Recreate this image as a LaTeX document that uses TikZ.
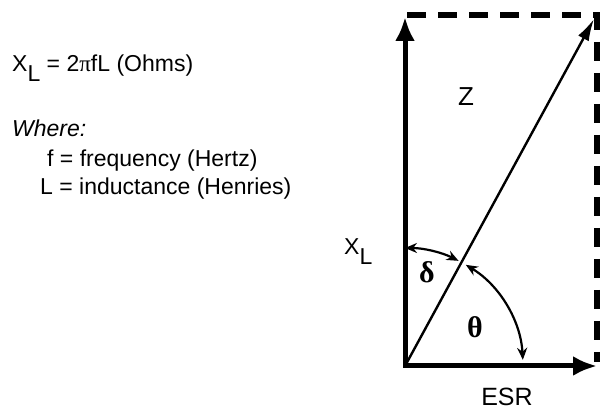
\documentclass[tikz,border=0pt]{standalone}
\usepackage{fontspec}
\setmainfont{Liberation Sans}
\newfontfamily\greekfont{Liberation Serif}
\usetikzlibrary{arrows.meta}

\tikzset{
  phasor/.style={line width=5pt, line cap=rect, -{Latex[length=24pt,width=20pt]}},
  anglearc/.style={line width=2.2pt, {Stealth[length=12pt,width=10pt]}-{Stealth[length=12pt,width=10pt]}},
  boxline/.style={line width=6pt, dash pattern=on 19pt off 12pt},
  greeklabel/.style={font=\greekfont\bfseries\fontsize{30}{34}\selectfont}
}

\begin{document}
\begin{tikzpicture}[x=1pt, y=1pt, line join=miter, font=\fontsize{23}{27}\selectfont]
  \useasboundingbox (0,0) rectangle (602,411);
  \coordinate (O) at (405,45);
  \coordinate (T) at (405,394);
  \coordinate (R) at (597,45);
  \coordinate (C) at (597,396);
  \coordinate (Zend) at (594,392);
  \coordinate (Bend) at (597,49);
  % dashed completion of the box
  \draw[boxline] (407,396) -- (C) -- (Bend);
  % phasors
  \draw[phasor] (O) -- (T);
  \draw[phasor] (O) -- (R);
  \draw[line width=2.4pt, -{Latex[length=22pt,width=12pt]}] (O) -- (Zend);
  % angles
  \draw[anglearc] (O) ++(90:118) arc[start angle=90, end angle=63, radius=118];
  \draw[anglearc] (O) ++(59:118) arc[start angle=59, end angle=3, radius=118];
  % labels
  \node[anchor=base west, inner sep=0] (formula) at (12,339) {X\raisebox{-0.4em}{L} = 2{\greekfont π}fL (Ohms)};
  \node[anchor=base west, inner sep=0, font=\fontsize{23}{27}\selectfont\itshape] (where) at (12,274) {Where:};
  \node[anchor=base west, inner sep=0] (freq) at (47,244) {f = frequency (Hertz)};
  \node[anchor=base west, inner sep=0] (induct) at (40,216) {L = inductance (Henries)};
  \node[anchor=base west, inner sep=0, font=\fontsize{26}{30}\selectfont] (Zlabel) at (458,305) {Z};
  \node[anchor=base west, inner sep=0] (XLlabel) at (344,156) {X\raisebox{-0.4em}{L}};
  \node[greeklabel] (delta) at (427,139) {δ};
  \node[greeklabel] (theta) at (475,84) {θ};
  \node[anchor=base, inner sep=0, font=\fontsize{25}{30}\selectfont] (ESRlabel) at (507,5) {ESR};
\end{tikzpicture}
\end{document}
